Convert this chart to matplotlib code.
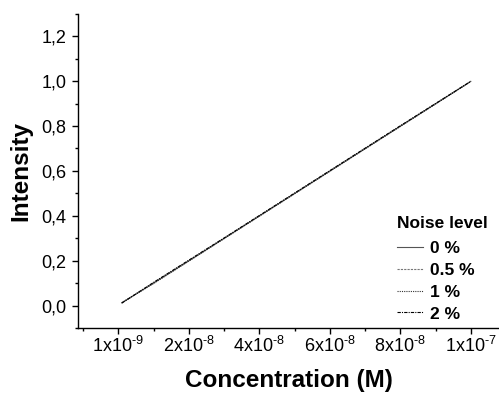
import matplotlib
matplotlib.use("Agg")
import matplotlib.pyplot as plt
from matplotlib.ticker import MultipleLocator, FixedLocator

plt.rcParams['font.family'] = ['Liberation Sans', 'DejaVu Sans']
plt.rcParams['mathtext.fontset'] = 'custom'
plt.rcParams['mathtext.rm'] = 'Liberation Sans'
plt.rcParams['mathtext.it'] = 'Liberation Sans'
plt.rcParams['mathtext.bf'] = 'Liberation Sans:bold'

# Data (concentration in M, normalized intensity)
concentration = [1e-9, 1e-8, 2e-8, 3e-8, 4e-8, 5e-8, 6e-8, 7e-8, 8e-8, 9e-8, 1e-7]
intensity_0 = [0.012, 0.100, 0.199, 0.299, 0.399, 0.499, 0.599, 0.699, 0.799, 0.899, 0.999]
intensity_05 = [0.012, 0.102, 0.201, 0.300, 0.400, 0.500, 0.600, 0.700, 0.800, 0.900, 0.999]
intensity_1 = [0.013, 0.098, 0.198, 0.298, 0.398, 0.498, 0.598, 0.698, 0.798, 0.898, 0.999]
intensity_2 = [0.011, 0.103, 0.202, 0.301, 0.401, 0.501, 0.601, 0.701, 0.801, 0.900, 0.999]
series_labels = ['0 %', '0.5 %', '1 %', '2 %']

xtick_pos = [0, 2e-8, 4e-8, 6e-8, 8e-8, 1e-7]
xtick_labels = [r'1x10$^{\text{-9}}$', r'2x10$^{\text{-8}}$', r'4x10$^{\text{-8}}$',
                r'6x10$^{\text{-8}}$', r'8x10$^{\text{-8}}$', r'1x10$^{\text{-7}}$']
ytick_pos = [0.0, 0.2, 0.4, 0.6, 0.8, 1.0, 1.2]
ytick_labels = ['0,0', '0,2', '0,4', '0,6', '0,8', '1,0', '1,2']

fig = plt.figure(figsize=(4.99, 3.95), dpi=100)
ax = fig.add_axes([0.1563, 0.1696, 0.8437, 0.7954])

styles = [
    dict(color='#555555', linestyle='-', linewidth=0.8),
    dict(color='#777777', linestyle=(0, (2, 1)), linewidth=0.8),
    dict(color='#333333', linestyle=(0, (1, 1)), linewidth=0.8),
    dict(color='#000000', linestyle=(0, (3, 1, 1, 1)), linewidth=0.8),
]
for ys, lab, st in zip([intensity_0, intensity_05, intensity_1, intensity_2], series_labels, styles):
    ax.plot(concentration, ys, label=lab, **st)

ax.set_xlim(-1.143e-8, 1.08e-7)
ax.set_ylim(-0.1, 1.3)

ax.spines['top'].set_visible(False)
ax.spines['right'].set_visible(False)
for s in ['left', 'bottom']:
    ax.spines[s].set_linewidth(1.0)

ax.xaxis.set_major_locator(FixedLocator(xtick_pos))
ax.set_xticklabels(xtick_labels)
ax.xaxis.set_minor_locator(MultipleLocator(1e-8))
ax.yaxis.set_major_locator(FixedLocator(ytick_pos))
ax.set_yticklabels(ytick_labels)
ax.yaxis.set_minor_locator(MultipleLocator(0.1))

ax.tick_params(which='major', direction='out', length=4.5, width=1.0, labelsize=13, pad=4)
ax.tick_params(axis='x', which='major', pad=1.5)
ax.tick_params(which='minor', direction='out', length=2.5, width=1.0)

ax.set_xlabel('Concentration (M)', fontsize=17.5, fontweight='bold', labelpad=9)
ax.set_ylabel('Intensity', fontsize=17.5, fontweight='bold', labelpad=6)

leg = ax.legend(loc='upper left', bbox_to_anchor=(0.72, 0.405), frameon=False,
                title='Noise level', prop={'weight': 'bold', 'size': 12.5},
                handlelength=1.5, handletextpad=0.4, labelspacing=0.38,
                alignment='left')
leg.get_title().set_fontweight('bold')
leg.get_title().set_fontsize(12.5)
leg._legend_box.sep = 7

fig.savefig('out.png', dpi=100)
